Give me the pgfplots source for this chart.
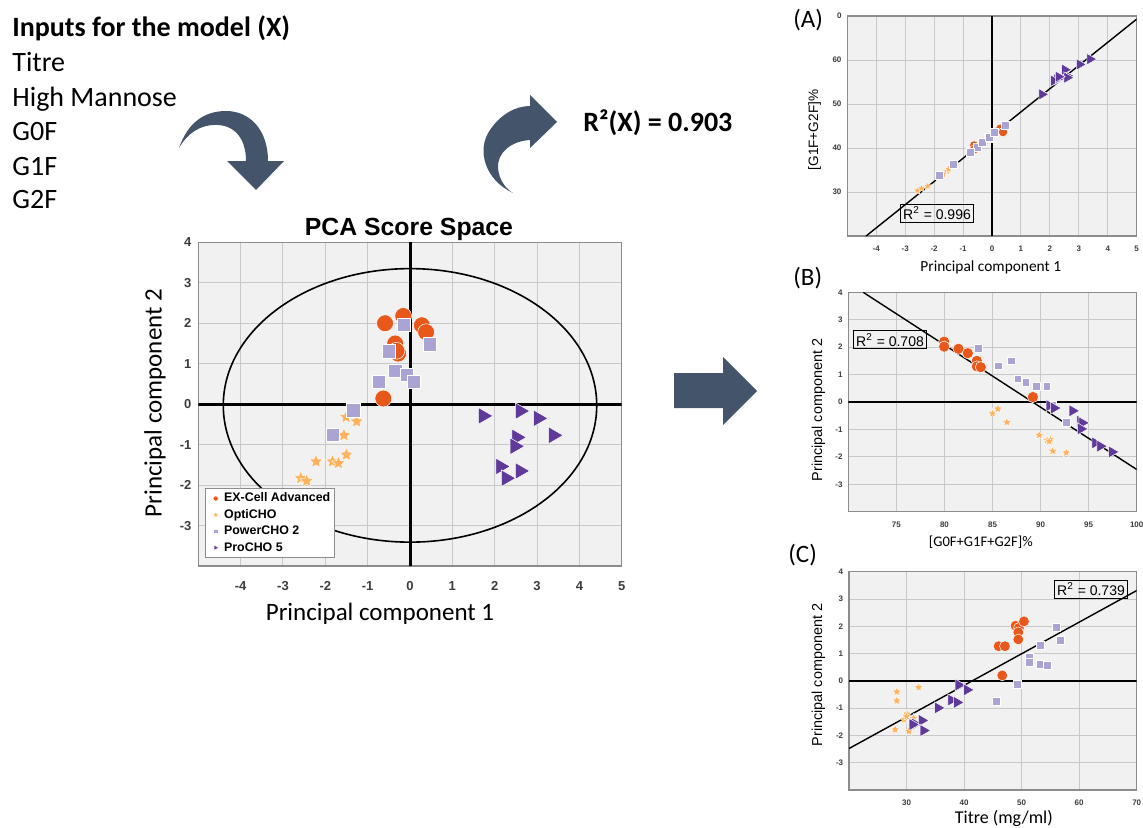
\documentclass[border=0pt]{standalone}
\usepackage{fontspec}
\setmainfont{Carlito}
\newfontfamily\arial{Liberation Sans}
\usepackage{pgfplots}
\pgfplotsset{compat=1.18}

\definecolor{cEx}{RGB}{233,88,27}
\definecolor{cOpti}{RGB}{254,178,92}
\definecolor{cPow}{RGB}{170,164,212}
\definecolor{cPro}{RGB}{95,58,155}
\definecolor{cBg}{RGB}{241,241,241}
\definecolor{cGrid}{RGB}{200,200,200}
\definecolor{cFrame}{RGB}{140,140,140}
\definecolor{cTick}{RGB}{60,60,60}
\definecolor{cArrow}{RGB}{68,84,106}

\pgfdeclareplotmark{fstar}{%
  \pgfpathmoveto{\pgfqpointpolar{90}{\pgfplotmarksize}}%
  \pgfpathlineto{\pgfqpointpolar{126}{0.45\pgfplotmarksize}}%
  \pgfpathlineto{\pgfqpointpolar{162}{\pgfplotmarksize}}%
  \pgfpathlineto{\pgfqpointpolar{198}{0.45\pgfplotmarksize}}%
  \pgfpathlineto{\pgfqpointpolar{234}{\pgfplotmarksize}}%
  \pgfpathlineto{\pgfqpointpolar{270}{0.45\pgfplotmarksize}}%
  \pgfpathlineto{\pgfqpointpolar{306}{\pgfplotmarksize}}%
  \pgfpathlineto{\pgfqpointpolar{342}{0.45\pgfplotmarksize}}%
  \pgfpathlineto{\pgfqpointpolar{18}{\pgfplotmarksize}}%
  \pgfpathlineto{\pgfqpointpolar{54}{0.45\pgfplotmarksize}}%
  \pgfpathclose
  \pgfusepathqfillstroke
}

\pgfplotsset{
  panel/.style={scale only axis, anchor=south west,
    axis background/.style={fill=cBg},
    grid=major, major grid style={draw=cGrid, line width=0.5pt},
    axis line style={draw=cFrame, line width=0.6pt},
    major tick length=0pt, minor tick length=0pt,
    tick label style={font=\arial\bfseries\fontsize{4}{4}\selectfont, text=cTick},
    xticklabel style={yshift=-1.5pt}, yticklabel style={xshift=0.6pt}},
  sEx/.style={only marks, mark=*, mark size=#1, color=cEx, mark options={fill=cEx, draw=white, line width=0.25pt}},
  sOpti/.style={only marks, mark=fstar, mark size=#1, color=cOpti, mark options={fill=cOpti, draw=white, line width=0.2pt}},
  sPow/.style={only marks, mark=square*, mark size=#1, color=cPow, mark options={fill=cPow, draw=white, line width=0.25pt}},
  sPro/.style={only marks, mark=triangle*, mark size=#1, color=cPro, mark options={rotate=-90, fill=cPro, draw=white, line width=0.25pt}},
}

\begin{document}
\begin{tikzpicture}
\useasboundingbox (0,0) rectangle (571.5pt,413.5pt);

% ---------- text and arrows, in pixel coordinates from top-left ----------
\begin{scope}[x=0.5pt,y=-0.5pt,yshift=413.5pt]
  \node[anchor=base west, inner sep=0, font=\bfseries\fontsize{14}{16}\selectfont] at (12,36.7) {Inputs for the model (X)};
  \node[anchor=base west, inner sep=0, font=\fontsize{14}{16}\selectfont] at (12,71.7) {Titre};
  \node[anchor=base west, inner sep=0, font=\fontsize{14}{16}\selectfont] at (12,106) {High Mannose};
  \node[anchor=base west, inner sep=0, font=\fontsize{14}{16}\selectfont] at (12,140) {G0F};
  \node[anchor=base west, inner sep=0, font=\fontsize{14}{16}\selectfont] at (12,175) {G1F};
  \node[anchor=base west, inner sep=0, font=\fontsize{14}{16}\selectfont] at (12,208) {G2F};
  \node[anchor=base west, inner sep=0, font=\bfseries\fontsize{14}{16}\selectfont] at (583,131.7) {R²(X) = 0.903};

  % left curved arrow
  \fill[cArrow] (179,148) .. controls (188,122) and (205,111) .. (226,111)
     .. controls (250,111) and (268,130) .. (268,161) -- (284,161) -- (256,190) -- (227,161) -- (246,161)
     .. controls (246,140) and (236,126) .. (218,125) .. controls (200,124) and (187,134) .. (179,148) -- cycle;
  % right curved arrow
  \fill[cArrow] (513,193) .. controls (485,180) and (476,150) .. (490,130)
     .. controls (500,115) and (515,106) .. (530,106) -- (530,95) -- (557,122) -- (530,148) -- (530,140)
     .. controls (512,141) and (497,152) .. (498,168) .. controls (499,180) and (506,189) .. (513,193) -- cycle;
  % block arrow
  \fill[cArrow] (674,373) -- (723,373) -- (723,357) -- (757,391) -- (723,425) -- (723,408) -- (674,408) -- cycle;

  % main chart title and labels
  \node[anchor=base, inner sep=0, font=\arial\bfseries\fontsize{12.4}{14}\selectfont] at (409,235) {PCA Score Space};
  \node[anchor=base, inner sep=0, font=\fontsize{12.5}{14}\selectfont] at (380,620.7) {Principal component 1};
  \node[anchor=base, rotate=90, inner sep=0, font=\fontsize{12.5}{14}\selectfont] at (161.5,403) {Principal component 2};

  % panel labels
  \node[anchor=base west, inner sep=0, font=\fontsize{12.5}{14}\selectfont] at (793,28) {(A)};
  \node[anchor=base west, inner sep=0, font=\fontsize{12.5}{14}\selectfont] at (793,285) {(B)};
  \node[anchor=base west, inner sep=0, font=\fontsize{12.5}{14}\selectfont] at (788,562) {(C)};

  % small panels axis labels
  \node[anchor=base, inner sep=0, font=\fontsize{7.7}{9}\selectfont] at (990.8,271.7) {Principal component 1};
  \node[anchor=base, rotate=90, inner sep=0, font=\arial\fontsize{6.8}{8}\selectfont] at (818,130) {[G1F+G2F]\%};
  \node[anchor=base, inner sep=0, font=\fontsize{7.3}{9}\selectfont] at (980.8,546.7) {[G0F+G1F+G2F]\%};
  \node[anchor=base, rotate=90, inner sep=0, font=\arial\fontsize{7.2}{8}\selectfont] at (822,410) {Principal component 2};
  \node[anchor=base, inner sep=0, font=\fontsize{9}{10}\selectfont] at (1003.8,823.3) {Titre (mg/ml)};
  \node[anchor=base, rotate=90, inner sep=0, font=\arial\fontsize{7.2}{8}\selectfont] at (822,675) {Principal component 2};
\end{scope}

% ---------- main PCA score plot ----------
\begin{axis}[panel, at={(99.15pt,130.5pt)}, width=211.7pt, height=161.85pt,
  xmin=-5, xmax=5, ymin=-4, ymax=4,
  xtick={-4,-3,-2,-1,0,1,2,3,4,5}, xticklabels={-4,-3,-2,-1,0,1,2,3,4,5},
  ytick={-3,-2,-1,0,1,2,3,4}, yticklabels={-3,-2,-1,0,1,2,3,4},
  tick label style={font=\arial\bfseries\fontsize{6.5}{7}\selectfont},
  xticklabel style={yshift=-2.5pt}, yticklabel style={xshift=-0.5pt},
  legend style={at={(0.016,0.025)}, anchor=south west, draw=cFrame, fill=white,
    font=\arial\bfseries\fontsize{6.2}{6.5}\selectfont, inner xsep=1.5pt, inner ysep=1.5pt, row sep=1.4pt,
    nodes={inner sep=0.6pt, text height=4.5pt, text depth=1.1pt}},
  legend cell align=left,
  legend image code/.code={\path (0cm,0cm) (0.24cm,0cm); \draw[#1] plot coordinates {(0.12cm,0cm)};},
]
\addplot[black, line width=1.5pt, forget plot] coordinates {(0,-4) (0,4)};
\addplot[black, line width=1.5pt, forget plot] coordinates {(-5,0) (5,0)};
\draw[black, line width=0.8pt] (axis cs:0,-0.03) ellipse [x radius=4.41, y radius=3.38];
\addplot[sEx=4.2pt, legend image post style={mark size=1.3pt}] coordinates {
 (-0.59,2.0) (-0.16,2.18) (0.28,1.95) (0.38,1.78) (-0.35,1.5) (-0.28,1.25) (-0.32,1.32) (-0.63,0.14)};
\addlegendentry{EX-Cell Advanced}
\addplot[sOpti=3.6pt, legend image post style={mark size=1.6pt}] coordinates {
 (-1.51,-0.32) (-1.26,-0.43) (-1.56,-0.77) (-1.5,-1.25) (-2.22,-1.42) (-1.83,-1.42) (-1.69,-1.46) (-2.58,-1.83) (-2.44,-1.9)};
\addlegendentry{OptiCHO}
\addplot[sPow=3.3pt, legend image post style={mark size=1.1pt}] coordinates {
 (-0.14,1.96) (0.47,1.48) (-0.51,1.31) (-0.35,0.83) (-0.08,0.73) (0.08,0.56) (-0.74,0.56) (-1.34,-0.15) (-1.83,-0.75)};
\addlegendentry{PowerCHO 2}
\addplot[sPro=4.8pt, legend image post style={mark size=1.5pt}] coordinates {
 (1.73,-0.29) (2.6,-0.17) (3.03,-0.35) (3.39,-0.77) (2.52,-0.82) (2.48,-1.04) (2.14,-1.54) (2.6,-1.65) (2.27,-1.83)};
\addlegendentry{ProCHO 5}
\end{axis}

% ---------- panel A ----------
\begin{axis}[panel, at={(423.65pt,295.5pt)}, width=144.7pt, height=110pt,
  xmin=-5, xmax=5, ymin=20, ymax=70,
  xtick={-4,-3,-2,-1,0,1,2,3,4,5}, xticklabels={-4,-3,-2,-1,0,1,2,3,4,5},
  ytick={30,40,50,60,70}, yticklabels={30,40,50,60,0}]
\addplot[black, line width=1.1pt] coordinates {(0,20) (0,70)};
\addplot[black, line width=0.7pt] coordinates {(-4.35,20) (5,69.3)};
\addplot[sEx=2.3pt] coordinates {
 (-0.59,39.8) (-0.16,42.1) (0.28,44.4) (0.38,43.6) (-0.35,41.1) (-0.28,41.4) (-0.62,40.6) (-0.63,39.6)};
\addplot[sOpti=2.2pt] coordinates {
 (-1.51,35.0) (-1.26,36.3) (-1.56,34.7) (-1.5,35.2) (-2.22,31.3) (-1.83,33.3) (-1.69,34.0) (-2.58,30.3) (-2.44,30.8)};
\addplot[sPow=2pt] coordinates {
 (-0.14,42.2) (0.47,45.1) (-0.51,40.2) (-0.35,41.3) (-0.08,42.5) (0.08,43.6) (-0.74,39.0) (-1.34,36.3) (-1.83,33.8)};
\addplot[sPro=3.3pt] coordinates {
 (1.73,52.2) (2.6,56.4) (3.03,59.0) (3.39,60.2) (2.52,57.8) (2.25,55.6) (2.14,55.3) (2.6,56.0) (2.3,56.2)};
\node[draw=black, line width=0.6pt, inner sep=1.2pt, font=\arial\fontsize{7}{8}\selectfont] at (axis cs:-1.9,25.2) {R\textsuperscript{2} = 0.996};
\end{axis}

% ---------- panel B ----------
\begin{axis}[panel, at={(424.15pt,157.65pt)}, width=144.2pt, height=109.7pt,
  xmin=70, xmax=100, ymin=-4, ymax=4,
  xtick={75,80,85,90,95,100}, xticklabels={75,80,85,90,95,100},
  ytick={-3,-2,-1,0,1,2,3,4}, yticklabels={-3,-2,-1,0,1,2,3,4}]
\addplot[black, line width=1.1pt] coordinates {(70,0) (100,0)};
\addplot[black, line width=0.7pt] coordinates {(71.55,4) (100,-2.46)};
\addplot[sEx=2.8pt] coordinates {
 (79.97,2.2) (79.97,2.02) (81.46,1.94) (82.43,1.78) (83.37,1.5) (83.37,1.3) (83.78,1.27) (89.2,0.18)};
\addplot[sOpti=2.4pt] coordinates {
 (85.0,-0.42) (85.56,-0.25) (86.49,-0.74) (89.86,-1.21) (90.66,-1.39) (91.0,-1.37) (91.25,-1.79) (92.67,-1.85) (90.9,-1.44)};
\addplot[sPow=1.9pt] coordinates {
 (83.54,1.96) (85.59,1.32) (86.94,1.5) (87.64,0.85) (88.47,0.73) (89.55,0.57) (90.66,0.57) (91.28,-0.1) (92.67,-0.74)};
\addplot[sPro=3.5pt] coordinates {
 (90.94,-0.13) (91.42,-0.22) (93.33,-0.32) (94.13,-0.7) (94.34,-0.76) (94.2,-0.98) (95.69,-1.49) (96.22,-1.61) (97.43,-1.82)};
\node[draw=black, line width=0.6pt, inner sep=1.2pt, font=\arial\fontsize{7}{8}\selectfont] at (axis cs:74.34,2.27) {R\textsuperscript{2} = 0.708};
\end{axis}

% ---------- panel C ----------
\begin{axis}[panel, at={(424.5pt,18.5pt)}, width=143.85pt, height=109.15pt,
  xmin=20, xmax=70, ymin=-4, ymax=4,
  xtick={30,40,50,60,70}, xticklabels={30,40,50,60,70},
  ytick={-3,-2,-1,0,1,2,3,4}, yticklabels={-3,-2,-1,0,1,2,3,4}]
\addplot[black, line width=1.1pt] coordinates {(20,0) (70,0)};
\addplot[black, line width=0.7pt] coordinates {(20,-2.48) (70,3.31)};
\addplot[sEx=2.7pt] coordinates {
 (48.95,2.02) (49.53,1.94) (50.4,2.18) (49.42,1.78) (49.42,1.52) (46.0,1.27) (47.09,1.27) (46.63,0.2)};
\addplot[sOpti=2.4pt] coordinates {
 (28.31,-0.4) (28.31,-0.73) (32.09,-0.24) (30.06,-1.21) (29.6,-1.42) (31.22,-1.37) (28.02,-1.79) (30.4,-1.85) (30.0,-1.3)};
\addplot[sPow=2pt] coordinates {
 (56.0,1.96) (56.63,1.49) (53.2,1.31) (51.34,0.85) (51.34,0.7) (53.3,0.6) (54.48,0.58) (49.24,-0.12) (45.64,-0.73)};
\addplot[sPro=3.5pt] coordinates {
 (39.07,-0.15) (40.52,-0.33) (35.47,-0.99) (37.79,-0.7) (38.78,-0.79) (31.51,-1.58) (32.67,-1.45) (32.97,-1.82) (31.05,-1.6)};
\node[draw=black, line width=0.6pt, inner sep=1.2pt, font=\arial\fontsize{7}{8}\selectfont] at (axis cs:62.06,3.35) {R\textsuperscript{2} = 0.739};
\end{axis}
\end{tikzpicture}
\end{document}
